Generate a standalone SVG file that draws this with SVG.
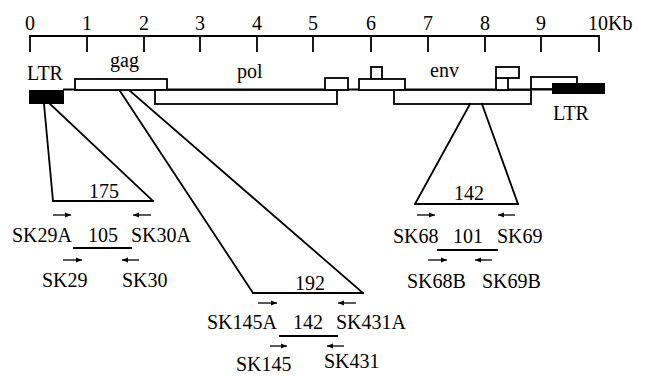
<svg xmlns="http://www.w3.org/2000/svg" width="650" height="376" viewBox="0 0 650 376">
  <style>
    text { font-family: "Liberation Serif", "DejaVu Serif", serif; font-size: 20px; fill: #000; }
    .ln { stroke: #000; stroke-width: 1.8; fill: none; stroke-linecap: square; }
    .box { stroke: #000; stroke-width: 1.8; fill: #fff; }
    .ltr { fill: #000; }
    .arr { stroke: #000; stroke-width: 1.3; fill: none; marker-end: url(#head); }
  </style>
  <defs>
    <marker id="head" markerUnits="userSpaceOnUse" markerWidth="7" markerHeight="6" refX="6" refY="3" orient="auto">
      <path d="M0,0.6 L6,3 L0,5.4 Z" fill="#000"/>
    </marker>
  </defs>
  <rect width="650" height="376" fill="#fff"/>

  <!-- kilobase scale -->
  <g id="scale">
    <path class="ln" d="M30,36 H599 M30,36 V51 M87,36 V51 M144,36 V51 M200,36 V51 M257,36 V51 M313,36 V51 M371,36 V51 M428,36 V51 M485,36 V51 M541,36 V51 M599,36 V51"/>
    <g text-anchor="middle">
      <text x="30" y="30">0</text>
      <text x="87" y="30">1</text>
      <text x="144" y="30">2</text>
      <text x="200" y="30">3</text>
      <text x="257" y="30">4</text>
      <text x="313" y="30">5</text>
      <text x="371" y="30">6</text>
      <text x="428" y="30">7</text>
      <text x="485" y="30">8</text>
      <text x="541" y="30">9</text>
    </g>
    <text x="588" y="30">10Kb</text>
  </g>

  <!-- proviral genome map -->
  <g id="genome">
    <path class="ln" d="M64,89.5 H552"/>
    <rect id="ltr5" class="ltr" x="29" y="90" width="35" height="14"/>
    <rect id="gag" class="box" x="75" y="79" width="92" height="11"/>
    <rect id="pol" class="box" x="155" y="90" width="182" height="14"/>
    <rect id="vif" class="box" x="325" y="78" width="23" height="12"/>
    <rect id="vpr-tab" class="box" x="371" y="67" width="11" height="12"/>
    <rect id="vpr" class="box" x="359" y="79" width="46" height="11"/>
    <rect id="env" class="box" x="394" y="90" width="137" height="14"/>
    <rect id="rev-stem" class="box" x="496" y="78" width="12" height="12"/>
    <rect id="rev" class="box" x="496" y="67" width="23" height="11"/>
    <rect id="nef" class="box" x="531" y="77" width="46" height="12"/>
    <rect id="ltr3" class="ltr" x="552" y="83" width="53" height="11"/>
    <text x="27" y="80">LTR</text>
    <text x="110" y="67">gag</text>
    <text x="237" y="78">pol</text>
    <text x="430" y="77">env</text>
    <text x="553" y="120">LTR</text>
  </g>

  <!-- expansion lines -->
  <g id="connectors">
    <path class="ln" d="M44,104 L53,201 M50,104 L153,201"/>
    <path class="ln" d="M120,91 L253,293 M130,91 L363,293"/>
    <path class="ln" d="M470,104 L415,204 M482,104 L518,204"/>
  </g>

  <!-- LTR amplicon -->
  <g id="amp-ltr">
    <path class="ln" d="M53,201 H153"/>
    <text x="104" y="198" text-anchor="middle">175</text>
    <path class="arr" d="M53,215 H71"/>
    <path class="arr" d="M151,215 H133"/>
    <text x="12" y="242">SK29A</text>
    <text x="103" y="242" text-anchor="middle">105</text>
    <text x="131" y="242">SK30A</text>
    <path class="ln" d="M74,248 H131"/>
    <path class="arr" d="M63,260 H82"/>
    <path class="arr" d="M139,260 H122"/>
    <text x="42" y="287">SK29</text>
    <text x="122" y="287">SK30</text>
  </g>

  <!-- gag amplicon -->
  <g id="amp-gag">
    <path class="ln" d="M253,293 H363"/>
    <text x="310" y="290" text-anchor="middle">192</text>
    <path class="arr" d="M258,303 H277"/>
    <path class="arr" d="M356,303 H338"/>
    <text x="207" y="329">SK145A</text>
    <text x="308" y="329" text-anchor="middle">142</text>
    <text x="336" y="329">SK431A</text>
    <path class="ln" d="M280,336 H337"/>
    <path class="arr" d="M270,346 H287"/>
    <path class="arr" d="M344,346 H327"/>
    <text x="236" y="371">SK145</text>
    <text x="324" y="368">SK431</text>
  </g>

  <!-- env amplicon -->
  <g id="amp-env">
    <path class="ln" d="M415,204 H518"/>
    <text x="469" y="200" text-anchor="middle">142</text>
    <path class="arr" d="M417,215 H435"/>
    <path class="arr" d="M515,215 H498"/>
    <text x="393" y="243">SK68</text>
    <text x="468" y="243" text-anchor="middle">101</text>
    <text x="497" y="243">SK69</text>
    <path class="ln" d="M438,250 H497"/>
    <path class="arr" d="M428,260 H447"/>
    <path class="arr" d="M492,260 H475"/>
    <text x="407" y="288">SK68B</text>
    <text x="482" y="288">SK69B</text>
  </g>
</svg>
